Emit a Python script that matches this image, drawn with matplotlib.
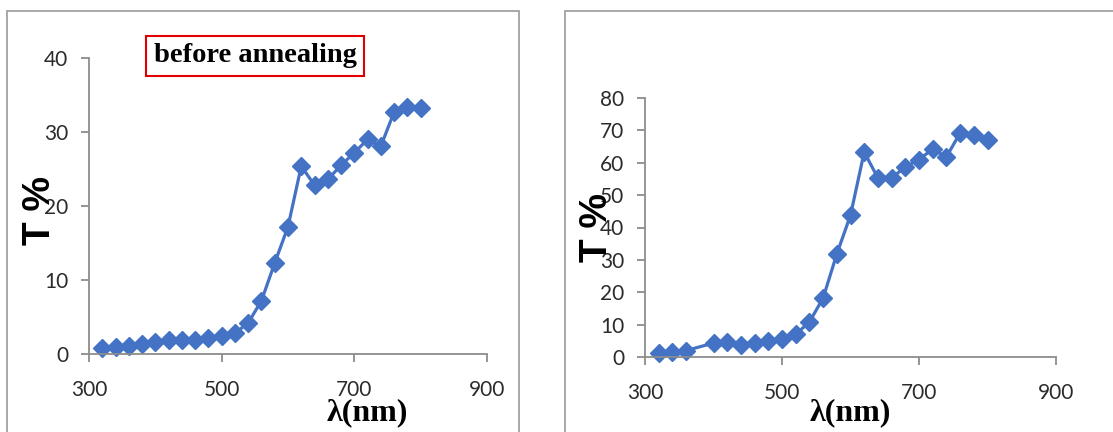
import matplotlib.pyplot as plt
from matplotlib.patches import Rectangle

# transmittance spectra, wavelength in nm
wl_before = [320, 340, 360, 380, 400, 420, 440, 460, 480, 500, 520, 540, 560,
             580, 600, 620, 640, 660, 680, 700, 720, 740, 760, 780, 800]
T_before = [0.8, 0.95, 1.1, 1.3, 1.6, 1.85, 1.85, 1.85, 2.2, 2.5, 2.8, 4.2, 7.2,
            12.3, 17.2, 25.4, 22.8, 23.6, 25.5, 27.2, 29.0, 28.1, 32.7, 33.4, 33.2]

wl_after = [320, 340, 360, 400, 420, 440, 460, 480, 500, 520, 540, 560,
            580, 600, 620, 640, 660, 680, 700, 720, 740, 760, 780, 800]
T_after = [1.2, 1.5, 2.0, 4.3, 4.6, 3.8, 4.3, 5.0, 5.6, 7.0, 10.8, 18.2,
           31.8, 43.8, 63.3, 55.3, 55.3, 58.7, 61.0, 64.2, 61.8, 69.2, 68.5, 67.1]

xticks = [300, 500, 700, 900]
yticks_before = [0, 10, 20, 30, 40]
yticks_after = [0, 10, 20, 30, 40, 50, 60, 70, 80]

W, H = 1113, 432
blue = '#4472C4'
grey = '#8C8C8C'
tick_font = 'Lato'
serif = 'Liberation Serif'

fig = plt.figure(figsize=(W / 100, H / 100), dpi=100)

# chart area borders
for x0, x1 in [(7, 519), (565, 1130)]:
    fig.patches.append(Rectangle((x0 / W, -0.1), (x1 - x0) / W, 1.1 - 11 / H,
                                 transform=fig.transFigure, fill=False,
                                 edgecolor='#9A9A9A', linewidth=1.2))


def style(ax, x, y, yticks):
    ax.plot(x, y, color=blue, lw=2.3, marker='D', ms=9.5, mec=blue, mfc=blue,
            clip_on=False)
    ax.set_xlim(300, 900)
    ax.set_ylim(yticks[0], yticks[-1])
    ax.set_xticks(xticks)
    ax.set_yticks(yticks)
    for s in ['top', 'right']:
        ax.spines[s].set_visible(False)
    for s in ['left', 'bottom']:
        ax.spines[s].set_color(grey)
        ax.spines[s].set_linewidth(1.3)
    ax.tick_params(direction='out', length=6, width=1.3, color=grey,
                   labelsize=15, labelcolor='#2b2b2b')
    ax.tick_params(axis='y', pad=9)
    ax.tick_params(axis='x', pad=13)
    for lab in ax.get_xticklabels() + ax.get_yticklabels():
        lab.set_fontfamily(tick_font)


ax1 = fig.add_axes([89 / W, 1 - 354 / H, 398 / W, 296 / H])
style(ax1, wl_before, T_before, yticks_before)

ax2 = fig.add_axes([645 / W, 1 - 357 / H, 411 / W, 259 / H])
style(ax2, wl_after, T_after, yticks_after)

# axis titles
for xc, yc in [(367, 413), (850, 413)]:
    fig.text(xc / W, 1 - yc / H, 'λ(nm)', fontsize=23, fontweight='bold',
             family=serif, ha='center', va='center')
for xc, yc in [(40, 210), (597, 228)]:
    fig.text(xc / W, 1 - yc / H, 'T %', fontsize=28, fontweight='bold',
             family='Liberation Sans', rotation=90, ha='center', va='center')

fig.text(255 / W, 1 - 56 / H, 'before annealing', fontsize=20.5,
         fontweight='bold', family=serif, ha='center', va='center',
         bbox=dict(boxstyle='square,pad=0.25', fc='white', ec='#E00000', lw=1.5))

fig.savefig('out.png', dpi=100)
